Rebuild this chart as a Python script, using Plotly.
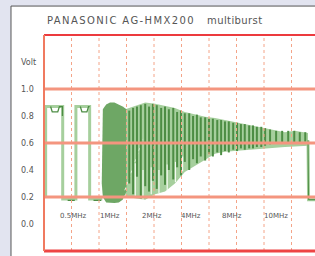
import plotly.graph_objects as go

# ---------------- data (time in microseconds, level in volts) ----------------
sq_x = [0.3, 0.3, 3.4, 3.4, 5.8, 5.8, 8.3, 8.3, 10.6]
sq_y = [0.20, 0.87, 0.87, 0.185, 0.185, 0.87, 0.87, 0.185, 0.185]

dark_x = [1.2, 1.5, 2.5, 2.8, 3.35, 3.35, None, 4.3, 5.6, None,
          6.6, 6.9, 7.8, 8.1, 8.3, None, 9.0, 10.4]
dark_y = [0.87, 0.83, 0.83, 0.87, 0.87, 0.80, None, 0.175, 0.175, None,
          0.87, 0.83, 0.83, 0.87, 0.87, None, 0.175, 0.175]

blob_x = [10.5, 10.7, 11.3, 12.0, 12.8, 13.6, 14.3, 15.0,
          15.0, 14.3, 13.6, 12.8, 12.0, 11.3, 10.7, 10.5]
blob_y = [0.30, 0.85, 0.885, 0.90, 0.90, 0.885, 0.87, 0.85,
          0.24, 0.18, 0.16, 0.155, 0.155, 0.16, 0.20, 0.30]

env_x = [14.8, 16.5, 18.4, 20.2, 22.0, 23.8, 25.6, 27.5, 29.3, 31.1,
         32.9, 34.7, 36.5, 38.4, 40.2, 42.0, 43.8, 45.6, 47.5, 48.0]
env_hi = [0.85, 0.875, 0.90, 0.89, 0.875, 0.86, 0.83, 0.81, 0.795, 0.785,
          0.77, 0.755, 0.74, 0.725, 0.705, 0.69, 0.68, 0.69, 0.68, 0.675]
env_lo = [0.21, 0.19, 0.18, 0.22, 0.24, 0.30, 0.385, 0.435, 0.475, 0.52,
          0.535, 0.54, 0.545, 0.55, 0.555, 0.565, 0.57, 0.575, 0.58, 0.58]

bar_x = [15.5, 16.2, 16.9, 17.6, 18.4, 19.1, 19.8, 20.5, 21.3, 22.0, 22.7,
         23.5, 24.2, 24.9, 25.6, 26.4, 27.1, 27.8, 28.5, 29.3, 30.0, 30.7,
         31.5, 32.2, 32.9, 33.6, 34.4, 35.1, 35.8, 36.5, 37.3, 38.0, 38.7,
         39.5, 40.2, 41.1, 42.2, 43.3, 44.4, 45.5, 46.5, 47.5]
bar_hi = [0.84, 0.86, 0.87, 0.88, 0.89, 0.87, 0.89, 0.88, 0.86, 0.87, 0.85,
          0.86, 0.83, 0.84, 0.82, 0.82, 0.80, 0.81, 0.79, 0.79, 0.78, 0.78,
          0.77, 0.77, 0.76, 0.76, 0.75, 0.75, 0.74, 0.74, 0.73, 0.73, 0.72,
          0.72, 0.71, 0.70, 0.69, 0.69, 0.69, 0.69, 0.68, 0.68]
bar_lo = [0.30, 0.22, 0.35, 0.19, 0.28, 0.24, 0.32, 0.26, 0.36, 0.29, 0.40,
          0.33, 0.42, 0.36, 0.46, 0.40, 0.48, 0.45, 0.50, 0.47, 0.52, 0.50,
          0.53, 0.51, 0.54, 0.53, 0.55, 0.54, 0.56, 0.55, 0.56, 0.56, 0.57,
          0.57, 0.58, 0.59, 0.60, 0.60, 0.60, 0.60, 0.60, 0.61]

# white gaps between light strokes (lower part of the early bursts)
gap_x = [16.6, 18.0, 19.5, 20.9, 22.4, 23.9, 25.2]
gap_hi = [0.45, 0.40, 0.42, 0.40, 0.44, 0.46, 0.50]
gap_lo = [0.19, 0.18, 0.22, 0.23, 0.25, 0.31, 0.39]

diag_x = [14.7, 18.0]
diag_y = [0.25, 0.63]

tail_x = [48.0, 48.1, 49.3]
tail_y = [0.62, 0.18, 0.18]

burst_labels = ["0.5MHz", "1MHz", "2MHz", "4MHz", "8MHz", "10MHz"]
burst_label_x = [5.2, 12.0, 19.6, 26.7, 34.2, 42.2]
burst_label_y = 0.06

y_tick_vals = [1.2, 1.0, 0.8, 0.6, 0.4, 0.2, 0.0]
y_tick_text = ["Volt", "1.0", "0.8", "0.6", "0.4", "0.2", "0.0"]
ref_lines = [1.0, 0.6, 0.2]
grid_x = [5, 10, 15, 20, 25, 30, 35, 40, 45]

title_main = "PANASONIC AG-HMX200"
title_sub = "multiburst"

# ---------------- colours ----------------
LIGHT = "#a6cf9d"
MID = "#6ea765"
DARK = "#4d8d44"
FONT = "DejaVu Sans"
TXT = "#555555"


def segments(xs, los, his):
    sx, sy = [], []
    for x, lo, hi in zip(xs, los, his):
        sx += [x, x, None]
        sy += [lo, hi, None]
    return sx, sy


fig = go.Figure()

# envelope fill
fig.add_trace(go.Scatter(x=env_x + env_x[::-1], y=env_hi + env_lo[::-1],
                         fill="toself", fillcolor=LIGHT, mode="lines",
                         line=dict(width=0), hoverinfo="skip"))
gx_, gy_ = segments(gap_x, gap_lo, gap_hi)
fig.add_trace(go.Scatter(x=gx_, y=gy_, mode="lines",
                         line=dict(color="#f4faf2", width=1.2)))
# dense low-frequency burst
fig.add_trace(go.Scatter(x=blob_x, y=blob_y, fill="toself", fillcolor=MID,
                         mode="lines", line=dict(width=0, color=MID)))
# square flag part
fig.add_trace(go.Scatter(x=sq_x, y=sq_y, mode="lines",
                         line=dict(color=LIGHT, width=3)))
fig.add_trace(go.Scatter(x=dark_x, y=dark_y, mode="lines",
                         line=dict(color=DARK, width=1.3)))
# dotted diagonal
fig.add_trace(go.Scatter(x=diag_x, y=diag_y, mode="lines",
                         line=dict(color="#e4f2e0", width=1, dash="dot")))
# dark oscillation strokes
bx_, by_ = segments(bar_x, bar_lo, bar_hi)
fig.add_trace(go.Scatter(x=bx_, y=by_, mode="lines",
                         line=dict(color=DARK, width=2)))
# tail
fig.add_trace(go.Scatter(x=tail_x, y=tail_y, mode="lines",
                         line=dict(color=LIGHT, width=3)))
fig.add_trace(go.Scatter(x=tail_x, y=tail_y, mode="lines",
                         line=dict(color=DARK, width=1)))

shapes = []
# panel
shapes.append(dict(type="rect", xref="paper", yref="paper",
                   x0=-0.1218, x1=1.2, y0=-0.2, y1=1.134,
                   fillcolor="white", line=dict(color="#555555", width=1),
                   layer="below"))
for gx in grid_x:
    shapes.append(dict(type="line", xref="x", yref="paper", x0=gx, x1=gx,
                       y0=0, y1=1, line=dict(color="#f4a488", width=1, dash="dot"),
                       layer="above"))
for ry in ref_lines:
    shapes.append(dict(type="line", xref="paper", yref="y", x0=0, x1=1,
                       y0=ry, y1=ry, line=dict(color="#f4957f", width=3),
                       layer="above"))
shapes.append(dict(type="line", xref="paper", yref="paper", x0=0, x1=1.2,
                   y0=1, y1=1, line=dict(color="#ec3a3e", width=2), layer="above"))
shapes.append(dict(type="line", xref="paper", yref="paper", x0=0, x1=1.2,
                   y0=0, y1=0, line=dict(color="#ee4444", width=3), layer="above"))
shapes.append(dict(type="line", xref="paper", yref="paper", x0=0, x1=0,
                   y0=0, y1=1, line=dict(color="#f07a60", width=2), layer="above"))

annotations = []
for t, v in zip(y_tick_text, y_tick_vals):
    annotations.append(dict(text=t, xref="paper", yref="y", x=-0.0923, y=v,
                            xanchor="left", yanchor="middle", showarrow=False,
                            font=dict(family=FONT, size=8, color=TXT)))
for t, bx in zip(burst_labels, burst_label_x):
    annotations.append(dict(text=t, xref="x", yref="y", x=bx, y=burst_label_y,
                            xanchor="center", yanchor="middle", showarrow=False,
                            font=dict(family=FONT, size=7, color=TXT)))
annotations.append(dict(text='<span style="letter-spacing:1.4px">' + title_main + "</span>",
                        xref="paper", yref="paper", x=0.0037, y=1.069,
                        xanchor="left", yanchor="middle", showarrow=False,
                        font=dict(family=FONT, size=10, color=TXT)))
annotations.append(dict(text='<span style="letter-spacing:0.4px">' + title_sub + "</span>",
                        xref="paper", yref="paper", x=(205 - 44) / 271, y=1.069,
                        xanchor="left", yanchor="middle", showarrow=False,
                        font=dict(family=FONT, size=10, color=TXT)))

fig.update_layout(
    width=315, height=256, autosize=False,
    margin=dict(l=44, r=0, t=35, b=5, pad=0),
    paper_bgcolor="#e2e4f0", plot_bgcolor="white",
    showlegend=False,
    xaxis=dict(range=[0, 49.27], showgrid=False, zeroline=False,
               showticklabels=False, showline=False, ticks=""),
    yaxis=dict(range=[-0.2, 1.4], showgrid=False, zeroline=False,
               showticklabels=False, showline=False, ticks=""),
    shapes=shapes, annotations=annotations,
)

fig.write_html("out.html",
               config={"displayModeBar": False, "staticPlot": True},
               post_script="document.body.style.margin='0';"
                           "document.body.style.background='#e2e4f0';"
                           "document.body.style.overflow='hidden';")
